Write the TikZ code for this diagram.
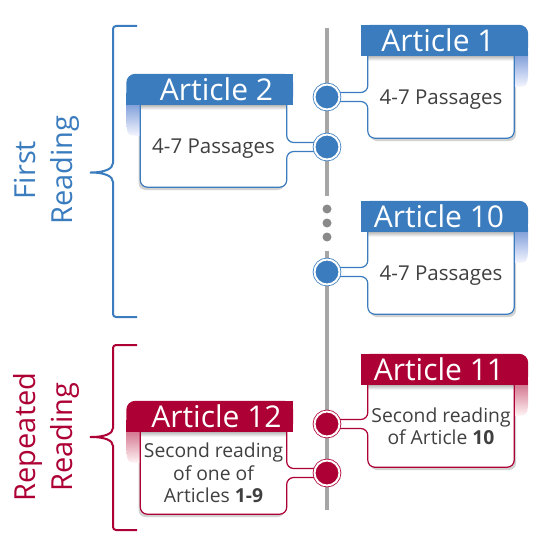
\documentclass[tikz,border=0pt]{standalone}
\usepackage{fontspec}
\setmainfont{Open Sans}
\usepackage{tikz}
\usetikzlibrary{calc,positioning,shadows}
\definecolor{artblue}{RGB}{58,124,190}
\definecolor{artred}{RGB}{173,0,52}
\definecolor{bluefade}{RGB}{112,148,212}
\definecolor{redfade}{RGB}{205,100,128}
\definecolor{bodytext}{RGB}{64,64,64}
\definecolor{linegray}{RGB}{166,166,166}
\definecolor{dotgray}{RGB}{138,138,138}
\tikzset{
  bodybox/.style={fill=white,rounded corners=7pt,minimum width=146pt,minimum height=82pt,
    inner xsep=0pt,inner ysep=2pt,align=center,text=bodytext,font=\fontsize{20.5}{22.5}\selectfont},
  bodyR/.style={bodybox,drop shadow={shadow xshift=2pt,shadow yshift=-3pt,fill=black!35,opacity=0.5}},
  bodyL/.style={bodybox,drop shadow={shadow xshift=-2pt,shadow yshift=-3pt,fill=black!35,opacity=0.5}},
  smalltext/.style={font=\fontsize{19.3}{22.3}\selectfont},
  headshade/.style={top color=black!28,bottom color=white},
  bluefold/.style={top color=bluefade,bottom color=blue!4},
  redfold/.style={top color=redfade,bottom color=red!4},
  blueedge/.style={draw=artblue,line width=1.2pt,rounded corners=7pt},
  rededge/.style={draw=artred,line width=1.2pt,rounded corners=7pt},
  headtext/.style={text=white,font=\fontsize{30}{32}\selectfont,inner sep=0pt},
  bluedot/.style={circle,fill=artblue,draw=artblue,double=white,double distance=2pt,
    line width=0.8pt,minimum size=25pt,inner sep=0pt},
  reddot/.style={circle,fill=artred,draw=artred,double=white,double distance=2pt,
    line width=0.8pt,minimum size=25pt,inner sep=0pt},
  graydot/.style={circle,fill=dotgray,minimum size=9pt,inner sep=0pt},
  timeline/.style={draw=linegray,line width=4pt},
  bracestyle/.style={line width=2pt,rounded corners=3pt},
  sidelabel/.style={rotate=90,align=center,inner sep=0pt,font=\fontsize{29}{37}\selectfont}
}

\begin{document}
\begin{tikzpicture}[x=1pt,y=-1pt]
  \useasboundingbox (0,0) rectangle (539,559);

  % timeline down the middle, broken by three dots
  \coordinate (linetop) at (327,28);
  \coordinate (linegapA) at (327,196);
  \coordinate (linegapB) at (327,251);
  \coordinate (linebottom) at (327,510);
  \draw[timeline] (linetop) -- (linegapA);
  \draw[timeline] (linegapB) -- (linebottom);
  \node[graydot] (dotA) at (327,209) {};
  \node[graydot] (dotB) at (327,223) {};
  \node[graydot] (dotC) at (327,237) {};

  % the points where the articles hang on the timeline
  \coordinate (c1) at (327,97);
  \coordinate (c2) at (327,147);
  \coordinate (c10) at (327,272);
  \coordinate (c11) at (327,424);
  \coordinate (c12) at (327,473);

  % braces and labels on the left
  \draw[bracestyle,draw=artblue] (137,26) -- (113,26) -- (113,160)
    .. controls (113,169) and (104,172.5) .. (88,172.5)
    .. controls (104,172.5) and (113,176) .. (113,185) -- (113,317) -- (137,317);
  \node[sidelabel,text=artblue] (firstlabel) at (47,170) {First\\Reading};
  \draw[bracestyle,draw=artred] (137,345) -- (113,345) -- (113,425)
    .. controls (113,434) and (104,437) .. (88,437)
    .. controls (104,437) and (113,440) .. (113,449) -- (113,530) -- (137,530);
  \node[sidelabel,text=artred] (repeatlabel) at (46,437) {Repeated\\Reading};

  % Article 1: right side, blue
  \node[bodyR,text depth=0pt] (b1) at (441,97) {4-7 Passages};
  \shade[bluefold] ($(b1.north east)+(0,-5)$) -- ($(b1.north east)+(0,31)$)
    .. controls ($(b1.north east)+(13,31)$) .. ($(b1.north east)+(14,17)$)
    -- ($(b1.north east)+(14,-5)$) -- cycle;
  \shade[headshade] (b1.north west) rectangle ($(b1.north east)+(0,5)$);
  \draw[blueedge] (b1.north west) -- ($(b1.west |- c1)+(0,-4.5)$) -- ($(c1)+(0,-4.5)$);
  \draw[blueedge] ($(c1)+(0,4.5)$) -- ($(b1.west |- c1)+(0,4.5)$) -- (b1.south west)
    -- (b1.south east) -- (b1.north east);
  \fill[artblue,rounded corners=9pt] ($(b1.north west)+(-6.5,-31)$) rectangle ($(b1.north east)+(14,0)$);
  \fill[artblue] ($(b1.north west)+(-6.5,-31)$) rectangle (b1.north east);
  \fill[artblue] ($(b1.north east)+(0,-12)$) rectangle ($(b1.north east)+(14,0)$);
  \node[headtext] (h1) at ($(b1.north)+(-3,-15.5)$) {Article 1};

  % Article 2: left side, blue
  \node[bodyL,text depth=0pt] (b2) at (213.5,146) {4-7 Passages};
  \shade[bluefold] ($(b2.north west)+(0,-5)$) -- ($(b2.north west)+(0,31)$)
    .. controls ($(b2.north west)+(-13,31)$) .. ($(b2.north west)+(-14,17)$)
    -- ($(b2.north west)+(-14,-5)$) -- cycle;
  \shade[headshade] (b2.north west) rectangle ($(b2.north east)+(0,5)$);
  \draw[blueedge] (b2.north east) -- ($(b2.east |- c2)+(0,-4.5)$) -- ($(c2)+(0,-4.5)$);
  \draw[blueedge] ($(c2)+(0,4.5)$) -- ($(b2.east |- c2)+(0,4.5)$) -- (b2.south east)
    -- (b2.south west) -- (b2.north west);
  \fill[artblue,rounded corners=9pt] ($(b2.north west)+(-14,-31)$) rectangle ($(b2.north east)+(6.5,0)$);
  \fill[artblue] ($(b2.north west)+(0,-31)$) rectangle ($(b2.north east)+(6.5,0)$);
  \fill[artblue] ($(b2.north west)+(-14,-12)$) rectangle (b2.north west);
  \node[headtext] (h2) at ($(b2.north)+(3,-15.5)$) {Article 2};

  % Article 10: right side, blue
  \node[bodyR,text depth=0pt] (b10) at (441,273) {4-7 Passages};
  \shade[bluefold] ($(b10.north east)+(0,-5)$) -- ($(b10.north east)+(0,31)$)
    .. controls ($(b10.north east)+(13,31)$) .. ($(b10.north east)+(14,17)$)
    -- ($(b10.north east)+(14,-5)$) -- cycle;
  \shade[headshade] (b10.north west) rectangle ($(b10.north east)+(0,5)$);
  \draw[blueedge] (b10.north west) -- ($(b10.west |- c10)+(0,-4.5)$) -- ($(c10)+(0,-4.5)$);
  \draw[blueedge] ($(c10)+(0,4.5)$) -- ($(b10.west |- c10)+(0,4.5)$) -- (b10.south west)
    -- (b10.south east) -- (b10.north east);
  \fill[artblue,rounded corners=9pt] ($(b10.north west)+(-6.5,-31)$) rectangle ($(b10.north east)+(14,0)$);
  \fill[artblue] ($(b10.north west)+(-6.5,-31)$) rectangle (b10.north east);
  \fill[artblue] ($(b10.north east)+(0,-12)$) rectangle ($(b10.north east)+(14,0)$);
  \node[headtext] (h10) at ($(b10.north)+(-2,-15.5)$) {Article 10};

  % Article 11: right side, red
  \node[bodyR,smalltext] (b11) at (441,426) {Second reading\\of Article \textbf{10}};
  \shade[redfold] ($(b11.north east)+(0,-5)$) -- ($(b11.north east)+(0,31)$)
    .. controls ($(b11.north east)+(13,31)$) .. ($(b11.north east)+(14,17)$)
    -- ($(b11.north east)+(14,-5)$) -- cycle;
  \shade[headshade] (b11.north west) rectangle ($(b11.north east)+(0,5)$);
  \draw[rededge] (b11.north west) -- ($(b11.west |- c11)+(0,-4.5)$) -- ($(c11)+(0,-4.5)$);
  \draw[rededge] ($(c11)+(0,4.5)$) -- ($(b11.west |- c11)+(0,4.5)$) -- (b11.south west)
    -- (b11.south east) -- (b11.north east);
  \fill[artred,rounded corners=9pt] ($(b11.north west)+(-6.5,-31)$) rectangle ($(b11.north east)+(14,0)$);
  \fill[artred] ($(b11.north west)+(-6.5,-31)$) rectangle (b11.north east);
  \fill[artred] ($(b11.north east)+(0,-12)$) rectangle ($(b11.north east)+(14,0)$);
  \node[headtext] (h11) at ($(b11.north)+(-2,-15.5)$) {Article 11};

  % Article 12: left side, red
  \node[bodyL,smalltext] (b12) at (213.5,473) {Second reading\\of one of\\Articles \textbf{1-9}};
  \shade[redfold] ($(b12.north west)+(0,-5)$) -- ($(b12.north west)+(0,31)$)
    .. controls ($(b12.north west)+(-13,31)$) .. ($(b12.north west)+(-14,17)$)
    -- ($(b12.north west)+(-14,-5)$) -- cycle;
  \shade[headshade] (b12.north west) rectangle ($(b12.north east)+(0,5)$);
  \draw[rededge] (b12.north east) -- ($(b12.east |- c12)+(0,-4.5)$) -- ($(c12)+(0,-4.5)$);
  \draw[rededge] ($(c12)+(0,4.5)$) -- ($(b12.east |- c12)+(0,4.5)$) -- (b12.south east)
    -- (b12.south west) -- (b12.north west);
  \fill[artred,rounded corners=9pt] ($(b12.north west)+(-14,-31)$) rectangle ($(b12.north east)+(6.5,0)$);
  \fill[artred] ($(b12.north west)+(0,-31)$) rectangle ($(b12.north east)+(6.5,0)$);
  \fill[artred] ($(b12.north west)+(-14,-12)$) rectangle (b12.north west);
  \node[headtext] (h12) at ($(b12.north)+(3,-15.5)$) {Article 12};

  % dots on the timeline, on top of the connectors
  \node[bluedot] (dot1) at (c1) {};
  \node[bluedot] (dot2) at (c2) {};
  \node[bluedot] (dot10) at (c10) {};
  \node[reddot] (dot11) at (c11) {};
  \node[reddot] (dot12) at (c12) {};
\end{tikzpicture}
\end{document}
